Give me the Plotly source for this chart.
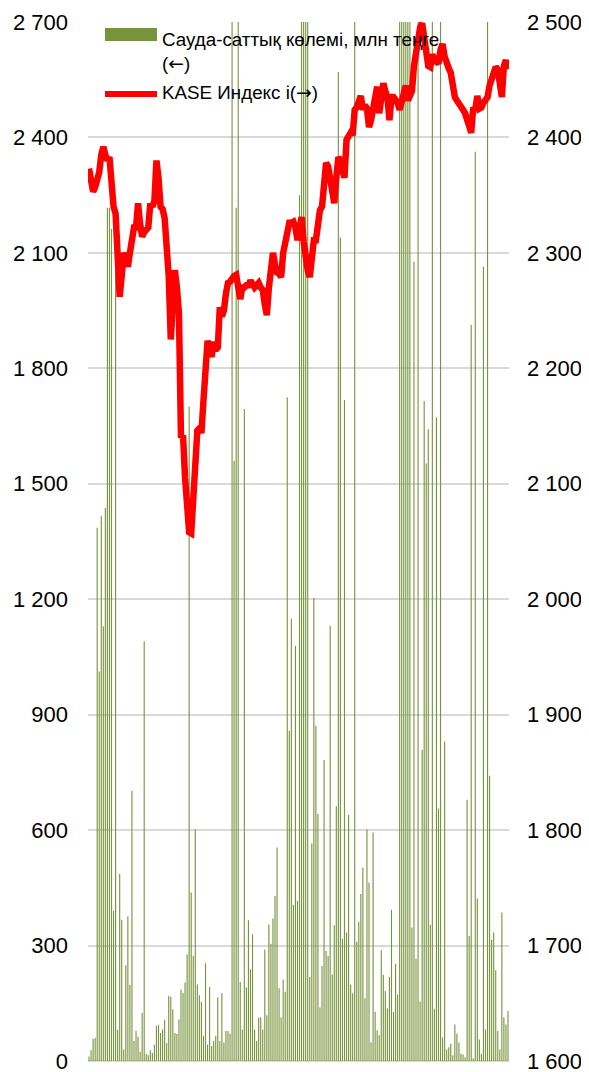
import plotly.graph_objects as go

# ---------------- data ----------------
volume_mln_tenge = [
    12, 28, 57, 60, 1386, 1012, 1416, 1130, 1437, 2217,
    2217, 2162, 390, 2150, 81, 486, 367, 30, 249, 376,
    198, 702, 52, 78, 63, 24, 125, 1091, 19, 15,
    28, 21, 42, 91, 94, 73, 82, 107, 47, 169,
    167, 134, 73, 70, 108, 186, 177, 204, 277, 1700,
    438, 273, 602, 199, 171, 153, 65, 254, 43, 192,
    39, 52, 65, 165, 52, 176, 48, 78, 78,
    71, 3000, 1560, 2217, 3000, 205, 82, 1694, 191, 366,
    238, 329, 82, 52, 113, 113, 82, 290, 119, 355,
    305, 370, 429, 555, 189, 113, 211, 180, 1725, 858,
    1149, 406, 1079, 416, 2250, 3000, 3000, 3000, 3000, 218,
    565, 1203, 871, 642, 139, 247, 782, 286, 273, 1131,
    225, 353, 662, 2570, 2140, 318, 1718, 334, 639, 199,
    176, 3000, 310, 362, 434, 503, 163, 602, 464,
    49, 594, 128, 80, 67, 288, 224, 182, 137, 218,
    393, 128, 253, 173, 3000, 3000, 3000, 3000, 3000, 3000,
    347, 2077, 266, 3000, 154, 809, 1715, 1553, 1642, 354,
    3000, 136, 1673, 656, 3000, 61, 830, 30, 36, 45,
    15, 95, 71, 48, 19, 17, 10, 679, 325, 1913,
    7, 2363, 422, 56, 19, 2064, 82, 3000, 741, 315,
    334, 236, 78, 30, 386, 114, 95, 130,
]

kase_index = [
    2373, 2360, 2353, 2357, 2363, 2370, 2385, 2392, 2385, 2380,
    2383, 2350, 2340, 2334, 2290, 2262, 2280, 2300, 2295, 2288,
    2300, 2310, 2322, 2322, 2343, 2325, 2314, 2318, 2320, 2322,
    2343, 2340, 2345, 2380, 2365, 2340, 2338, 2330, 2305, 2280,
    2225, 2255, 2285, 2270, 2248, 2140, 2142, 2105, 2080, 2058,
    2057, 2086, 2110, 2146, 2148, 2144, 2172, 2200, 2224, 2215,
    2210, 2223, 2216, 2218, 2253, 2245, 2250, 2265, 2274, 2275,
    2278, 2280, 2281, 2270, 2260, 2270, 2270, 2272, 2272, 2276,
    2272, 2270, 2272, 2274, 2270, 2268, 2255, 2246, 2270, 2290,
    2300, 2290, 2283, 2282, 2279, 2300, 2310, 2322, 2326, 2326,
    2327, 2322, 2311, 2320, 2331, 2310, 2295, 2285, 2279, 2300,
    2311, 2311, 2325, 2337, 2340, 2355, 2378, 2375, 2365, 2350,
    2343, 2365, 2383, 2380, 2370, 2365, 2398, 2402, 2404, 2402,
    2424, 2426, 2433, 2436, 2424, 2428, 2425, 2409, 2415, 2424,
    2435, 2444, 2421, 2435, 2447, 2440, 2435, 2415, 2435, 2435,
    2432, 2430, 2424, 2430, 2440, 2445, 2432, 2435, 2440,
    2462, 2475, 2485, 2495, 2499, 2485, 2466, 2462, 2461, 2472,
    2467, 2465, 2464, 2476, 2481, 2470, 2463, 2460, 2456, 2445,
    2435, 2432, 2430, 2427, 2424, 2421, 2417, 2410, 2404, 2426,
    2424, 2436, 2425, 2426, 2430, 2432, 2435, 2445, 2452, 2458,
    2461, 2459, 2444, 2435, 2462, 2467, 2459,
]

trading_days = list(range(1, len(volume_mln_tenge) + 1))

left_ticks = [0, 300, 600, 900, 1200, 1500, 1800, 2100, 2400, 2700]
right_ticks = [1600, 1700, 1800, 1900, 2000, 2100, 2200, 2300, 2400, 2500]

bar_name = "Сауда-саттық көлемі, млн теңге (←)"
line_name = "KASE Индекс і(→)"

# ---------------- layout geometry ----------------
# the page body adds an 8px margin, so the figure is 8px smaller than the window
OFF = 8
W, H = 589 - OFF, 1072 - OFF
L, R, T, B = 88 - OFF, 509 - OFF, 22 - OFF, 1061 - OFF


def px(x, y):
    """page pixel -> paper coordinates"""
    x -= OFF
    y -= OFF
    return (x - L) / (R - L), (B - y) / (B - T)


def fmt(v):
    return f"{v:,}".replace(",", " ")


fig = go.Figure()
fig.add_trace(go.Bar(
    x=trading_days, y=volume_mln_tenge, name=bar_name,
    # a hair below full opacity so thin bars are rounded, not widened to 2px
    marker=dict(color="rgba(119,147,60,0.99)", line=dict(width=0)),
    yaxis="y", showlegend=False,
))
fig.add_trace(go.Scatter(
    x=trading_days, y=kase_index, name=line_name, mode="lines",
    line=dict(color="#FF0000", width=6.5),
    yaxis="y2", showlegend=False,
))

tick_font = dict(family="Liberation Sans, Arial, sans-serif", size=22, color="#000000")

fig.update_layout(
    width=W, height=H,
    margin=dict(l=L, r=W - R, t=T, b=H - B, autoexpand=False),
    paper_bgcolor="white", plot_bgcolor="white",
    bargap=0.45,
    xaxis=dict(showticklabels=False, showgrid=False, zeroline=False,
               ticks="", range=[0.5, len(trading_days) + 0.5]),
    yaxis=dict(range=[0, 2700], tickvals=left_ticks,
               ticktext=[fmt(v) for v in left_ticks],
               showgrid=True, gridcolor="#D9D9D9", gridwidth=2,
               zeroline=True, zerolinecolor="#D9D9D9", zerolinewidth=2,
               ticks="", ticklabelstandoff=19, ticklabeloverflow="allow",
               tickfont=tick_font),
    yaxis2=dict(range=[1600, 2500], tickvals=right_ticks,
                ticktext=[fmt(v) for v in right_ticks],
                overlaying="y", side="right", showgrid=False,
                zeroline=False, ticks="", ticklabelstandoff=17,
                ticklabeloverflow="allow", tickfont=tick_font),
    showlegend=False,
)

# legend drawn inside the plot, top-left
x0, y0 = px(105, 28)
x1, y1 = px(157, 41)
fig.add_shape(type="rect", xref="paper", yref="paper", x0=x0, x1=x1, y0=y1, y1=y0,
              fillcolor="#77933C", line=dict(width=0), layer="above")
lx0, ly = px(105, 94)
lx1, _ = px(157, 94)
fig.add_shape(type="line", xref="paper", yref="paper", x0=lx0, x1=lx1, y0=ly, y1=ly,
              line=dict(color="#FF0000", width=6), layer="above")

legend_font = dict(family="Liberation Sans, Arial, sans-serif", size=18.8, color="#000000")
arrow_l = '<span style="font-family:DejaVu Sans">←</span>'
arrow_r = '<span style="font-family:DejaVu Sans">→</span>'
ax, ay = px(160, 51)
fig.add_annotation(xref="paper", yref="paper", x=ax, y=ay, xanchor="left", yanchor="middle",
                   text=f"Сауда-саттық көлемі, млн теңге<br>({arrow_l})", showarrow=False,
                   align="left", font=legend_font)
bx, by = px(160, 93)
fig.add_annotation(xref="paper", yref="paper", x=bx, y=by, xanchor="left", yanchor="middle",
                   text=f"KASE Индекс і({arrow_r})", showarrow=False, align="left",
                   font=legend_font)

fig.write_html("out.html")
